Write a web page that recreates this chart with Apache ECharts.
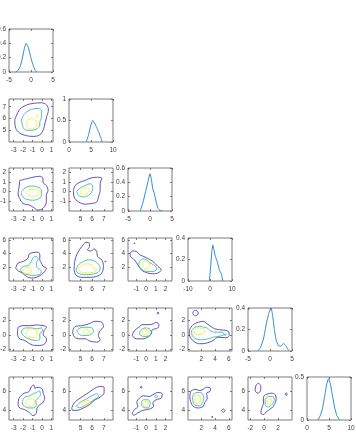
<!DOCTYPE html>
<html><head><meta charset="utf-8">
<script src="https://cdn.jsdelivr.net/npm/echarts@6/dist/echarts.min.js"></script>
<style>html,body{margin:0;padding:0;background:#fff}#c{width:356px;height:433px}</style>
</head><body><div id="c"></div>
<script>
// ---------- axis ranges and ticks (per variable) ----------
const xRange = [[-3.5,1.17],[4.02,7.79],[-1.88,2.67],[0.09,6.45],[-2.33,4.02]];
const yRange = [null,[4.03,7.65],[-2.02,2.45],[-0.05,6.3],[-2.23,3.77],[3.02,7.52]];
const varTicks = [[-3,-2,-1,0,1],[5,6,7],[-1,0,1,2],[2,4,6],[-2,0,2],[4,6]];
const diagXRange = [[-5,5],[0,10],[-5,5],[-10,10],[-5,5],[0,10]];
const diagXTicks = [[-5,0,5],[0,5,10],[-5,0,5],[-10,0,10],[-5,0,5],[0,5,10]];
const diagYRange = [[0,0.6],[0,1],[0,0.6],[0,0.4],[0,0.4],[0,0.5]];
const diagYTicks = [[0,0.2,0.4,0.6],[0,0.5,1],[0,0.2,0.4,0.6],[0,0.2,0.4],[0,0.2,0.4],[0,0.5]];

// ---------- diagonal densities ----------
const kde1 = [[-3.5,0],[-3,0.02],[-2.5,0.07],[-2,0.18],[-1.5,0.33],[-1.1,0.40],[-0.7,0.36],[-0.3,0.27],[0.1,0.17],[0.5,0.09],[0.9,0.03],[1.4,0]];
const kde2 = [[3.9,0],[4.4,0.15],[4.9,0.37],[5.4,0.5],[5.8,0.44],[6.3,0.34],[6.7,0.24],[7.1,0.13],[7.6,0]];
const kde3 = [[-2.2,0],[-1.6,0.12],[-1,0.27],[-0.5,0.4],[0,0.52],[0.3,0.45],[0.6,0.32],[1,0.24],[1.4,0.13],[1.8,0.04],[2.3,0.01],[2.9,0]];
const kde4 = [[-0.3,0],[0.3,0.13],[0.8,0.27],[1.3,0.335],[1.8,0.29],[2.4,0.23],[3.2,0.185],[3.8,0.14],[4.3,0.1],[5.2,0.065],[5.8,0]];
const kde5 = [[-2.8,0],[-2.2,0.03],[-1.5,0.11],[-0.8,0.26],[-0.2,0.36],[0.25,0.4],[0.6,0.33],[1,0.2],[1.4,0.1],[1.9,0.05],[2.4,0.045],[3.1,0.07],[3.6,0.05],[4.0,0.02],[4.4,0]];
const kde6 = [[2.5,0],[3,0.05],[3.5,0.13],[4,0.27],[4.5,0.42],[4.9,0.48],[5.3,0.42],[5.8,0.28],[6.3,0.14],[6.8,0.05],[7.4,0]];

// ---------- contour paths: [level, points] ----------
const c21 = [
 [0,[[-2.89,5.89],[-2.36,6.78],[-1.64,7.14],[-0.93,7.28],[-0.04,7.33],[0.5,7.14],[0.68,6.72],[0.5,6.17],[0.32,5.61],[0.14,5.06],[-0.21,4.64],[-0.93,4.5],[-1.64,4.56],[-2.36,4.78],[-2.79,5.19]]],
 [1,[[-2.18,5.89],[-1.82,6.44],[-1.11,6.78],[-0.39,6.86],[-0.04,6.67],[-0.04,6.17],[-0.21,5.75],[-0.29,5.33],[-0.75,5.06],[-1.46,5.0],[-1.96,5.19]]],
 [2,[[-1.64,5.75],[-1.36,5.97],[-0.93,6.0],[-0.64,5.81],[-0.57,5.47],[-0.79,5.19],[-1.21,5.11],[-1.57,5.33]]],
 [2,[[-0.6,6.22],[-0.5,6.32],[-0.4,6.22],[-0.5,6.12]]]
];
const c31 = [
 [0,[[-2.36,1.15],[-1.66,1.32],[-0.95,1.49],[-0.24,1.59],[0.11,1.39],[0.11,0.98],[0.46,0.63],[0.64,0.12],[0.46,-0.39],[0.46,-1.07],[0.11,-1.75],[-0.42,-1.92],[-0.77,-1.75],[-1.3,-1.41],[-2.01,-1.24],[-2.36,-0.73],[-2.54,-0.22],[-2.43,0.46]]],
 [1,[[-2.19,-0.05],[-1.83,0.36],[-1.13,0.57],[-0.42,0.46],[-0.07,0.12],[-0.07,-0.39],[-0.31,-0.73],[-0.95,-0.9],[-1.66,-0.8],[-2.08,-0.49]]],
 [2,[[-1.66,-0.05],[-1.3,0.23],[-0.77,0.23],[-0.31,0.02],[-0.42,-0.32],[-0.95,-0.49],[-1.48,-0.39]]]
];
const c32 = [
 [0,[[4.4,0.12],[4.54,0.63],[4.97,0.98],[5.4,1.15],[5.83,1.39],[6.4,1.49],[6.83,1.39],[6.69,0.81],[6.69,0.12],[6.54,-0.56],[6.4,-1.07],[5.97,-1.24],[5.4,-1.31],[4.83,-1.07],[4.46,-0.56]]],
 [1,[[4.69,0.02],[4.97,0.36],[5.4,0.63],[5.83,0.81],[6.06,0.57],[5.97,-0.05],[5.69,-0.39],[5.26,-0.56],[4.83,-0.39]]],
 [2,[[4.97,0.02],[5.26,0.29],[5.6,0.4],[5.77,0.19],[5.6,-0.15],[5.26,-0.29],[5.0,-0.18]]]
];
const c41 = [
 [0,[[-2.79,1.85],[-2.54,2.59],[-2.01,2.83],[-1.48,3.32],[-1.37,3.9],[-0.94,4.15],[-0.41,4.2],[-0.23,3.8],[-0.23,3.07],[-0.06,2.59],[0.12,2.1],[0.48,1.85],[0.3,1.37],[-0.06,0.88],[-0.59,0.49],[-1.12,0.39],[-1.65,0.63],[-2.08,1.12],[-2.54,1.46]]],
 [1,[[-2.29,1.61],[-2.01,2.1],[-1.48,2.24],[-1.12,2.83],[-0.94,3.41],[-0.59,3.56],[-0.41,3.22],[-0.59,2.59],[-0.52,1.95],[-0.06,1.37],[-0.3,0.88],[-0.94,0.78],[-1.48,0.88],[-2.01,1.12]]],
 [2,[[-2.08,1.46],[-1.83,1.85],[-1.37,1.95],[-1.12,1.61],[-1.23,1.22],[-1.65,1.07],[-2.01,1.17]]]
];
const c42 = [
 [0,[[4.46,1.56],[4.51,2.83],[4.74,4.05],[5.11,5.02],[5.49,5.66],[5.77,5.51],[5.77,5.02],[5.6,4.54],[5.89,4.39],[6.17,4.68],[6.4,4.29],[6.46,3.56],[6.83,3.07],[6.97,2.1],[6.83,1.12],[6.4,0.63],[5.83,0.49],[5.11,0.49],[4.63,0.78]]],
 [0,[[7.1,2.83],[7.14,2.93],[7.18,2.83],[7.14,2.73]]],
 [1,[[4.63,1.61],[4.83,2.34],[5.26,2.83],[5.69,3.07],[6.11,2.98],[6.46,2.59],[6.69,1.85],[6.54,1.27],[6.11,0.98],[5.54,0.88],[4.97,0.98],[4.69,1.27]]],
 [2,[[4.83,1.76],[5.11,2.24],[5.6,2.49],[5.97,2.34],[6.11,1.85],[6.4,1.61],[6.11,1.22],[5.54,1.17],[5.03,1.27]]]
];
const c43 = [
 [0,[[-1.66,4.05],[-1.38,4.39],[-0.97,4.29],[-0.62,3.8],[0,3.41],[0.69,2.83],[1.21,2.1],[1.55,1.61],[1.38,1.27],[0.86,1.02],[0.17,1.12],[-0.52,1.61],[-0.86,2.34],[-1.21,3.07],[-1.62,3.56]]],
 [0,[[-1.25,5.51],[-1.21,5.6],[-1.17,5.51],[-1.21,5.42]]],
 [1,[[-0.69,2.83],[-0.34,3.22],[0.07,3.07],[0.34,2.68],[0.86,2.24],[1.1,1.76],[0.76,1.37],[0,1.37],[-0.52,1.76],[-0.76,2.34]]],
 [2,[[-0.41,2.59],[-0.17,2.93],[0.17,2.83],[0.34,2.34],[0.28,1.85],[-0.07,1.76],[-0.34,2.1]]]
];
const c51 = [
 [0,[[-2.54,1.08],[-2.01,1.31],[-1.3,1.31],[-0.59,1.4],[0.12,1.31],[0.48,1.08],[0.23,0.62],[0.12,0.07],[0.48,-0.53],[0.3,-1.22],[-0.23,-1.45],[-0.77,-1.45],[-1.3,-1.22],[-1.83,-0.76],[-2.36,-0.53],[-2.61,0.16]]],
 [1,[[-2.18,0.62],[-1.72,0.99],[-1.12,0.99],[-0.59,0.85],[-0.06,0.99],[0.05,0.53],[-0.23,0.16],[-0.23,-0.53],[-0.59,-0.76],[-1.12,-0.67],[-1.65,-0.39],[-2.08,0.07]]],
 [2,[[-1.72,0.39],[-1.48,0.76],[-0.94,0.85],[-0.52,0.62],[-0.52,0.07],[-0.77,-0.3],[-1.23,-0.3],[-1.65,-0.07]]]
];
const c52 = [
 [0,[[4.34,0.62],[4.54,1.17],[5.11,1.31],[5.69,1.54],[6.26,1.91],[6.83,1.77],[6.97,1.17],[6.69,0.62],[6.54,-0.07],[6.69,-0.67],[6.4,-0.99],[5.83,-0.85],[5.4,-0.53],[4.83,-0.53],[4.4,-0.07]]],
 [1,[[4.69,0.62],[4.97,0.99],[5.49,1.08],[5.97,0.99],[6.11,0.53],[5.89,0.07],[5.4,-0.07],[4.91,0.07]]],
 [2,[[5.2,0.53],[5.4,0.8],[5.69,0.76],[5.77,0.39],[5.6,0.11],[5.31,0.16]]]
];
const c53 = [
 [0,[[-1.45,-0.07],[-1.21,0.62],[-0.76,1.08],[-0.34,1.45],[0.28,1.45],[0.69,1.54],[1.03,1.77],[1.31,1.45],[1.21,0.99],[0.62,0.71],[0.52,0.16],[0.17,-0.3],[-0.34,-0.53],[-1.03,-0.53]]],
 [0,[[1.12,3.06],[1.21,3.2],[1.3,3.06],[1.21,2.92]]],
 [1,[[-0.69,0.39],[-0.41,0.85],[0,0.99],[0.41,0.76],[0.52,0.25],[0.28,-0.12],[-0.17,-0.21],[-0.62,0.02]]],
 [2,[[-0.41,0.48],[-0.17,0.76],[0.17,0.71],[0.28,0.34],[0.07,0.02],[-0.28,0.07]]]
];
const c54 = [
 [0,[[0.36,0.85],[0.84,1.45],[1.57,1.77],[2.29,1.91],[2.77,1.63],[3.25,1.31],[3.98,0.85],[4.94,0.71],[5.9,0.53],[6.05,-0.07],[5.57,-0.39],[4.46,-0.3],[3.73,-0.76],[2.77,-1.13],[1.81,-1.22],[1.08,-0.99],[0.46,-0.39],[0.27,0.25]]],
 [0,[[0.79,3.06],[0.9,3.32],[1.18,3.43],[1.46,3.32],[1.57,3.06],[1.46,2.8],[1.18,2.69],[0.9,2.8]]],
 [1,[[0.6,0.62],[1.08,1.08],[1.81,1.22],[2.39,1.08],[2.87,0.99],[3.25,0.62],[3.98,0.39],[5.08,0.39],[5.28,0.07],[4.7,-0.16],[3.73,-0.3],[3.01,-0.53],[2.05,-0.67],[1.23,-0.53],[0.7,-0.07]]],
 [1,[[5.3,0.05],[5.45,0.17],[5.6,0.05],[5.45,-0.07]]],
 [2,[[0.94,0.62],[1.42,0.99],[2.05,0.94],[2.53,0.71],[2.39,0.25],[1.81,0.07],[1.18,0.16]]]
];
const c61 = [
 [0,[[-2.43,5.31],[-2.01,5.76],[-1.37,6.0],[-1.12,6.52],[-0.87,6.69],[-0.77,6.34],[-0.41,6.45],[0.05,6.24],[0.12,5.83],[0.3,5.31],[0.05,4.79],[-0.23,4.62],[-0.52,4.28],[-0.59,3.76],[-0.94,3.48],[-1.3,3.76],[-1.83,4.1],[-2.36,4.28],[-2.54,4.79]]],
 [1,[[-2.08,4.97],[-1.83,5.41],[-1.3,5.55],[-0.94,5.76],[-0.59,5.9],[-0.3,6.1],[-0.16,5.66],[-0.41,5.31],[-0.66,5.03],[-0.59,4.62],[-0.94,4.28],[-1.37,4.28],[-1.83,4.45],[-2.08,4.72]]],
 [2,[[-1.72,4.86],[-1.48,5.21],[-1.01,5.21],[-0.77,4.97],[-0.94,4.52],[-1.37,4.45],[-1.65,4.62]]]
];
const c62 = [
 [0,[[4.26,4.28],[4.46,4.79],[4.97,5.31],[5.54,5.76],[6.11,6.24],[6.63,6.52],[7.03,6.45],[7.03,5.9],[6.69,5.41],[6.26,5.14],[5.77,4.62],[5.26,4.28],[4.69,4.03],[4.34,4.03]]],
 [1,[[4.63,4.45],[4.97,4.86],[5.49,5.21],[5.97,5.55],[6.4,5.76],[6.57,5.55],[6.26,5.21],[5.83,4.86],[5.4,4.55],[4.91,4.31]]],
 [2,[[5.11,4.69],[5.4,4.97],[5.69,5.07],[5.83,4.86],[5.54,4.59],[5.2,4.52]]]
];
const c63 = [
 [0,[[-1.45,3.76],[-1.21,4.1],[-0.86,4.45],[-0.97,4.86],[-0.69,5.31],[-0.28,5.55],[0.28,5.48],[0.69,5.66],[1.21,5.9],[1.66,5.76],[1.55,5.31],[1.03,5.14],[0.69,4.79],[0.76,4.45],[0.34,4.17],[-0.34,4.03],[-0.86,3.76],[-1.31,3.52]]],
 [0,[[-0.62,6.45],[-0.52,6.55],[-0.42,6.45],[-0.52,6.35]]],
 [1,[[0.88,5.48],[1.03,5.63],[1.18,5.48],[1.03,5.33]]],
 [1,[[-0.52,4.79],[-0.28,5.14],[0.17,5.14],[0.41,4.86],[0.34,4.38],[0,4.28],[-0.41,4.45]]],
 [2,[[-0.34,4.79],[-0.1,5.0],[0.17,4.93],[0.28,4.66],[0.07,4.45],[-0.28,4.52]]]
];
const c64 = [
 [0,[[0.46,6.0],[1.08,6.24],[1.81,6.1],[2.29,6.24],[2.77,6.45],[3.35,6.34],[3.25,6.0],[2.77,5.83],[2.87,5.31],[2.53,4.86],[2.29,4.45],[1.57,4.28],[0.84,4.45],[0.46,4.97],[0.36,5.48]]],
 [0,[[4.93,4.0],[5.18,4.17],[5.43,4.0],[5.18,3.83]]],
 [0,[[3.55,3.34],[3.59,3.42],[3.63,3.34],[3.59,3.26]]],
 [1,[[0.75,5.48],[1.08,5.83],[1.71,5.9],[2.19,5.76],[2.39,5.31],[2.19,4.86],[1.81,4.52],[1.23,4.52],[0.84,4.86]]],
 [2,[[1.08,5.31],[1.33,5.66],[1.71,5.59],[1.9,5.24],[1.71,4.79],[1.33,4.72],[1.08,4.97]]]
];
const c65 = [
 [0,[[-1.16,6.69],[-0.82,6.86],[-0.48,6.52],[-0.58,6.0],[-0.96,5.83],[-1.3,6.17]]],
 [0,[[-0.1,5.48],[0.39,5.72],[1.11,5.83],[1.59,5.66],[1.73,5.14],[1.45,4.62],[1.11,4.28],[0.39,3.93],[-0.1,3.59],[-0.48,3.76],[-0.34,4.28],[-0.1,4.79]]],
 [0,[[3.03,5.72],[3.18,5.87],[3.33,5.72],[3.18,5.57]]],
 [1,[[0.14,5.14],[0.63,5.48],[1.25,5.48],[1.45,5.14],[1.11,4.62],[0.63,4.38],[0.14,4.62]]],
 [2,[[0.39,4.97],[0.77,5.21],[1.11,5.14],[0.96,4.79],[0.63,4.62],[0.39,4.72]]]
];

const kdes = [kde1,kde2,kde3,kde4,kde5,kde6];
const contourMap = {'1,0':c21,'2,0':c31,'2,1':c32,'3,0':c41,'3,1':c42,'3,2':c43,
  '4,0':c51,'4,1':c52,'4,2':c53,'4,3':c54,'5,0':c61,'5,1':c62,'5,2':c63,'5,3':c64,'5,4':c65};

// ---------- styling / layout ----------
const LEVEL_COLORS = ['#3e26a8','#24b2a5','#f2ee1c'];
const LINE_BLUE = '#2f89cc';
const LEFTS = [9,69,128,188,248,307];
const TOPS = [29,99,168,238,308,377];
const W = 44, H = 43;
const TXT = '#404040', BOX = '#5c5c5c';

function axis(gi, rng, ticks, pos, label, margin) {
  return {
    type:'value', gridIndex:gi, position:pos, min:rng[0], max:rng[1],
    axisLine:{show:false, onZero:false},
    splitLine:{show:false},
    axisTick:{show:true, inside:true, length:2, customValues:ticks, lineStyle:{color:BOX, width:0.8}},
    axisLabel:{show:label, customValues:ticks, fontSize:6.5, color:TXT, margin:margin,
      fontFamily:'Liberation Sans', formatter:(v)=>String(+v.toFixed(2))}
  };
}

const grids=[], xAxes=[], yAxes=[], series=[];
for (let i=0;i<6;i++){
  for (let j=0;j<=i;j++){
    const gi = grids.length;
    grids.push({left:LEFTS[j], top:TOPS[i], width:W, height:H, show:true,
      borderColor:BOX, borderWidth:0.8, backgroundColor:'#fff', containLabel:false,
      outerBoundsMode:'none'});
    let xr, xt, yr, yt;
    if (i===j){ xr=diagXRange[i]; xt=diagXTicks[i]; yr=diagYRange[i]; yt=diagYTicks[i]; }
    else { xr=xRange[j]; xt=varTicks[j]; yr=yRange[i]; yt=varTicks[i]; }
    const xi = xAxes.length, yi = yAxes.length;
    xAxes.push(axis(gi,xr,xt,'bottom',true,4.5));
    xAxes.push(axis(gi,xr,xt,'top',false,3));
    yAxes.push(axis(gi,yr,yt,'left',true,3));
    yAxes.push(axis(gi,yr,yt,'right',false,3));
    if (i===j){
      series.push({type:'line', xAxisIndex:xi, yAxisIndex:yi, data:kdes[i], symbol:'none',
        smooth:0.15, lineStyle:{color:LINE_BLUE, width:1}, silent:true, animation:false});
    } else {
      const paths = contourMap[i+','+j] || [];
      paths.forEach(([lv,pts])=>{
        series.push({type:'line', xAxisIndex:xi, yAxisIndex:yi, data:pts.concat([pts[0]]),
          symbol:'none', smooth:0.35, clip:true,
          lineStyle:{color:LEVEL_COLORS[lv], width:0.8}, silent:true, animation:false});
      });
    }
  }
}

const chart = echarts.init(document.getElementById('c'), null, {renderer:'canvas'});
chart.setOption({backgroundColor:'#fff', animation:false, grid:grids, xAxis:xAxes, yAxis:yAxes, series:series});
</script></body></html>
